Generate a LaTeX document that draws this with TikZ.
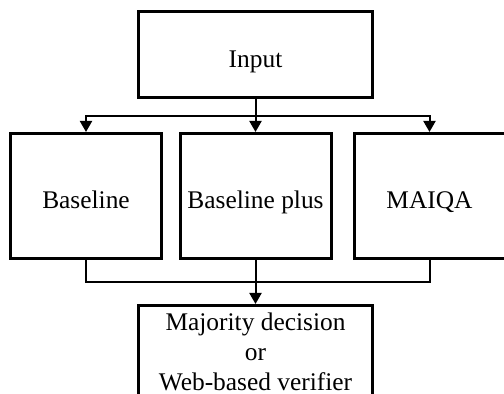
\documentclass[tikz,border=0pt]{standalone}
\usepackage{fontspec}
\setmainfont{Liberation Serif}
\usetikzlibrary{arrows.meta, positioning}
\tikzset{
  box/.style={
    rectangle, draw=black, fill=white, line width=1.5pt,
    align=center, font=\fontsize{12.7}{15}\selectfont, inner sep=0pt,
  },
  oneline/.style={text height=14pt, text depth=1pt},
  topbox/.style={box, minimum width=117pt, minimum height=43pt},
  method/.style={box, oneline, minimum width=75.5pt, minimum height=62.5pt},
  link/.style={line width=1pt, draw=black},
  arrow/.style={
    -{Triangle[length=5.5pt, width=6pt]}, line width=1pt, draw=black,
  },
}
\begin{document}
\begin{tikzpicture}[x=0.5pt, y=-0.5pt]

  \useasboundingbox (0,0) rectangle (504,394);

  \node[topbox, oneline] (inp) at (255.5, 54.5) {Input};
  \node[method] (base)  at ( 86, 196)    {Baseline};
  \node[method] (plus)  at (255.5, 196)  {Baseline plus};
  \node[method] (maiqa) at (429.5, 196)  {MAIQA};
  \node[topbox, minimum height=46.5pt] (final) at (255.5, 352)
        {Majority decision\\or\\ Web-based verifier};

  \coordinate (split) at (255.5, 116);
  \coordinate (merge) at (255.5, 282);

  \draw[link]  (inp) -- (split);
  \draw[arrow] (split) -| (base);
  \draw[arrow] (split) -- (plus);
  \draw[arrow] (split) -| (maiqa);

  \draw[link]  (base) |- (merge);
  \draw[link]  (maiqa) |- (merge);
  \draw[arrow] (plus) -- (final);

\end{tikzpicture}
\end{document}
